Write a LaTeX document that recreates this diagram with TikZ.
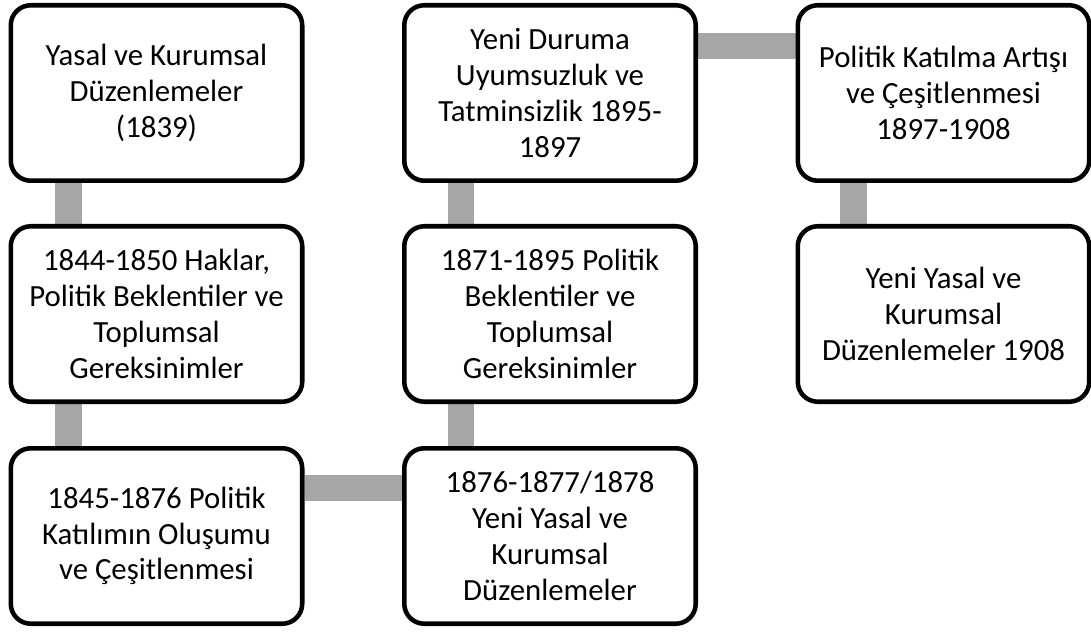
\documentclass[tikz,border=0pt]{standalone}
\usepackage{fontspec}
\setmainfont{Carlito}
\usetikzlibrary{calc,backgrounds}
\begin{document}
\begin{tikzpicture}[x=0.75pt,y=-0.75pt,
  stagebox/.style={draw=black, line width=3.4pt, rounded corners=15pt, fill=white,
    minimum width=218.6pt, minimum height=131.6pt, align=center, inner sep=2pt,
    font=\fontsize{23.1pt}{26.8pt}\selectfont},
  link/.style={draw=linkgray, line width=20pt}]
\definecolor{linkgray}{HTML}{A6A6A6}
\useasboundingbox (0,0) rectangle (1091,634);
% nodes
\node[stagebox] (a) at (156.5,93) {Yasal ve Kurumsal\\Düzenlemeler\\(1839)};
\node[stagebox] (b) at (156.5,314) {1844-1850 Haklar,\\Politik Beklentiler ve\\Toplumsal\\Gereksinimler};
\node[stagebox] (c) at (156.5,536) {1845-1876 Politik\\Katılımın Oluşumu\\ve Çeşitlenmesi};
\node[stagebox] (d) at (550,536) {1876-1877/1878\\Yeni Yasal ve\\Kurumsal\\Düzenlemeler};
\node[stagebox] (e) at (550,314) {1871-1895 Politik\\Beklentiler ve\\Toplumsal\\Gereksinimler};
\node[stagebox] (f) at (550,93) {Yeni Duruma\\Uyumsuzluk ve\\Tatminsizlik 1895-\\1897};
\node[stagebox] (g) at (943.5,93) {Politik Katılma Artışı\\ve Çeşitlenmesi\\1897-1908};
\node[stagebox] (h) at (943.5,314) {Yeni Yasal ve\\Kurumsal\\Düzenlemeler 1908};
% connectors behind boxes
\begin{scope}[on background layer]
\fill[white] (0,0) rectangle (1091,634);
\draw[link] ($(a.south west)+(60,0)$) -- ($(b.north west)+(60,0)$);
\draw[link] ($(b.south west)+(60,0)$) -- ($(c.north west)+(60,0)$);
\draw[link] ($(c.north east)+(0,42)$) -- ($(d.north west)+(0,42)$);
\draw[link] ($(d.north west)+(59,0)$) -- ($(e.south west)+(59,0)$);
\draw[link] ($(e.north west)+(59,0)$) -- ($(f.south west)+(59,0)$);
\draw[link] ($(f.north east)+(0,43)$) -- ($(g.north west)+(0,43)$);
\draw[link] ($(g.south west)+(58,0)$) -- ($(h.north west)+(58,0)$);
\end{scope}
\end{tikzpicture}
\end{document}
